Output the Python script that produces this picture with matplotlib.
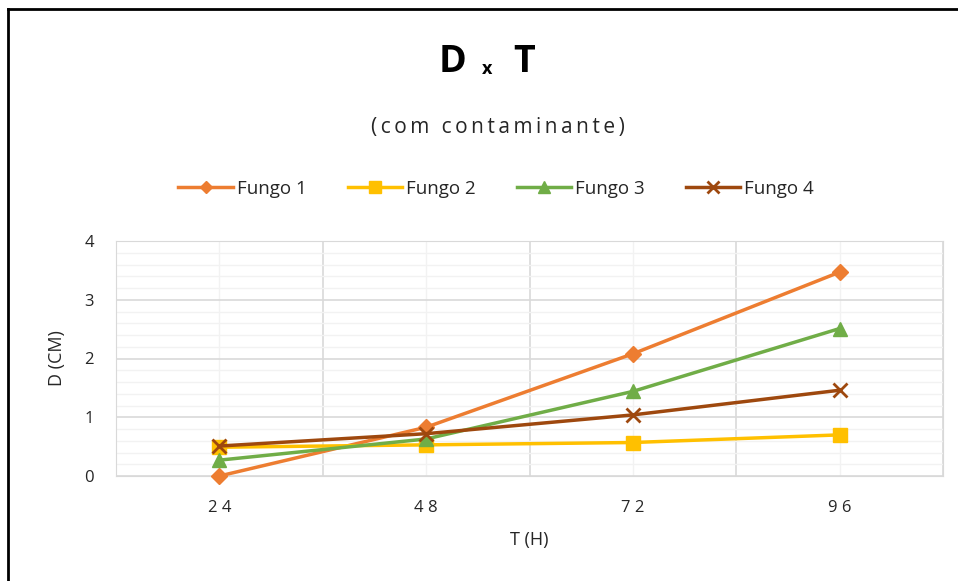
import matplotlib.pyplot as plt
from matplotlib.ticker import MultipleLocator
from matplotlib.lines import Line2D

# data
hours = ["2 4", "4 8", "7 2", "9 6"]
fungo1 = [0.0, 0.83, 2.08, 3.47]
fungo2 = [0.49, 0.53, 0.57, 0.70]
fungo3 = [0.27, 0.63, 1.44, 2.51]
fungo4 = [0.51, 0.72, 1.04, 1.46]
series_names = ["Fungo 1", "Fungo 2", "Fungo 3", "Fungo 4"]
subtitle = "(com contaminante)"

plt.rcParams['font.family'] = ['Open Sans', 'DejaVu Sans']

fig = plt.figure(figsize=(9.58, 5.81), dpi=100)
ax = fig.add_axes([116 / 958, 1 - 476 / 581, 827 / 958, 235 / 581])

x = [i + 0.5 for i in range(len(hours))]
styles = [
    (fungo1, "#ED7D31", "D", 8),
    (fungo2, "#FFC000", "s", 10),
    (fungo3, "#70AD47", "^", 10),
    (fungo4, "#9E480E", "x", 10),
]
for (vals, col, mk, ms), name in zip(styles, series_names):
    ax.plot(x, vals, color=col, lw=2.5, marker=mk, ms=ms, mew=2 if mk == "x" else 1,
            label=name, zorder=3, clip_on=False)

ax.set_xlim(0, 4)
ax.set_ylim(0, 4)
ax.xaxis.set_major_locator(MultipleLocator(1))
ax.yaxis.set_major_locator(MultipleLocator(1))
ax.yaxis.set_minor_locator(MultipleLocator(0.2))
ax.set_xticks(x, labels=hours, minor=True)
ax.set_xticklabels([], minor=False)
ax.grid(which="major", color="#D9D9D9", lw=1.2)
ax.grid(which="minor", color="#F2F2F2", lw=1)
ax.set_axisbelow(True)
ax.tick_params(which="both", length=0, labelsize=12, colors="#262626")
ax.tick_params(axis="x", which="minor", pad=17)
ax.tick_params(axis="y", pad=16)
ax.tick_params(axis="y", which="minor", labelleft=False)
for s in ax.spines.values():
    s.set_color("#D9D9D9")

ax.set_ylabel("D (CM)", fontsize=13, color="#262626", labelpad=13)
ax.set_xlabel("T (H)", fontsize=13, color="#262626", labelpad=11)

# title pieces
fig.text(453 / 958, 1 - 62 / 581, "D", fontsize=27, fontweight="bold", ha="center", va="center")
fig.text(487 / 958, 1 - 69 / 581, "x", fontsize=13, fontweight="bold", ha="center", va="center")
fig.text(524 / 958, 1 - 62 / 581, "T", fontsize=27, fontweight="bold", ha="center", va="center")
fig.text(498 / 958, 1 - 127 / 581, "\u2009".join(subtitle), fontsize=15, ha="center",
         va="center", color="#262626")

handles, labels = ax.get_legend_handles_labels()
fig.legend(handles, labels, loc="center", bbox_to_anchor=(496 / 958, 1 - 189 / 581), ncol=4,
           frameon=False, fontsize=13.5, handlelength=2.9, columnspacing=2.2, handletextpad=0.2,
           markerscale=0.8, labelcolor="#262626")

# frame on left and top
fig.add_artist(Line2D([8 / 958, 8 / 958], [0, 1 - 9 / 581], color="black", lw=2))
fig.add_artist(Line2D([8 / 958, 1], [1 - 9 / 581, 1 - 9 / 581], color="black", lw=2))

fig.savefig("out.png", dpi=100)
